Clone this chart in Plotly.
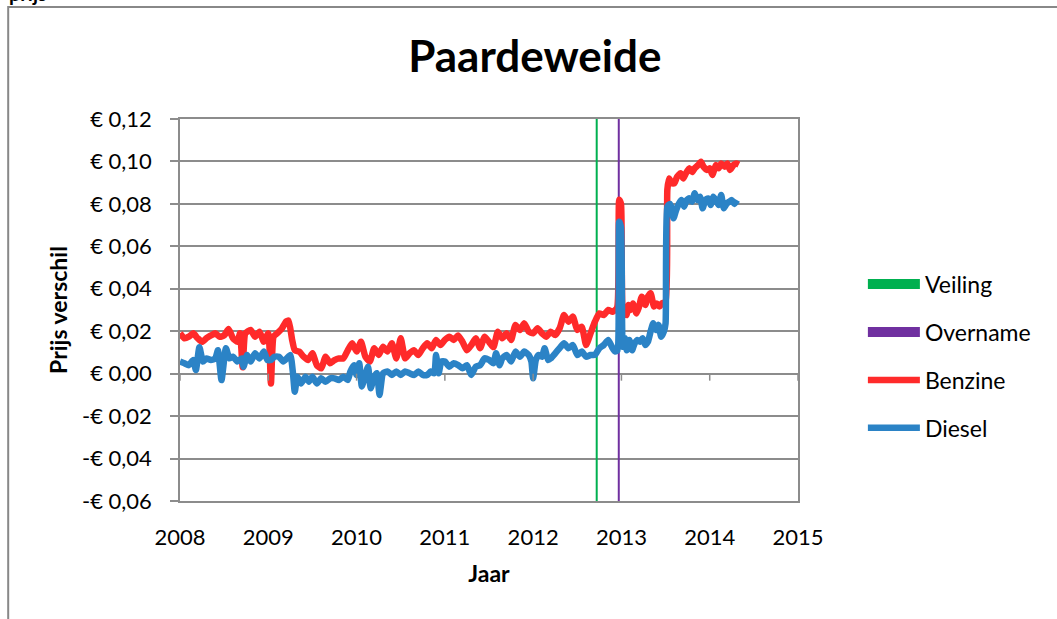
import plotly.graph_objects as go

# ---------------- data ----------------
benzine_jaar = [2008.00, 2008.05, 2008.10, 2008.15, 2008.20, 2008.25, 2008.30, 2008.35, 2008.40, 2008.45,
                2008.50, 2008.55, 2008.60, 2008.65, 2008.68, 2008.71, 2008.74, 2008.80, 2008.85, 2008.90,
                2008.95, 2009.00, 2009.03, 2009.06, 2009.10, 2009.15, 2009.20, 2009.23, 2009.27, 2009.30,
                2009.35, 2009.40, 2009.45, 2009.50, 2009.55, 2009.60, 2009.65, 2009.70, 2009.75, 2009.80,
                2009.85, 2009.90, 2009.95, 2010.00, 2010.05, 2010.10, 2010.15, 2010.20, 2010.25, 2010.30,
                2010.35, 2010.40, 2010.45, 2010.50, 2010.55, 2010.60, 2010.65, 2010.70, 2010.75, 2010.80,
                2010.85, 2010.90, 2010.95, 2011.00, 2011.05, 2011.10, 2011.15, 2011.20, 2011.25, 2011.30,
                2011.35, 2011.40, 2011.45, 2011.50, 2011.55, 2011.60, 2011.65, 2011.70, 2011.75, 2011.80,
                2011.85, 2011.90, 2011.95, 2012.00, 2012.05, 2012.10, 2012.15, 2012.20, 2012.25, 2012.30,
                2012.35, 2012.40, 2012.45, 2012.50, 2012.55, 2012.60, 2012.65, 2012.70, 2012.75, 2012.80,
                2012.85, 2012.90, 2012.95, 2012.975, 2012.995, 2013.015, 2013.04, 2013.06, 2013.08, 2013.10,
                2013.13, 2013.17, 2013.20, 2013.23, 2013.27, 2013.30, 2013.33, 2013.37, 2013.40, 2013.43,
                2013.46, 2013.50, 2013.52, 2013.54, 2013.57, 2013.60, 2013.63, 2013.67, 2013.70, 2013.73,
                2013.77, 2013.80, 2013.83, 2013.87, 2013.90, 2013.93, 2013.97, 2014.00, 2014.03, 2014.07,
                2014.10, 2014.13, 2014.17, 2014.20, 2014.23, 2014.27, 2014.30, 2014.33]
benzine_prijs = [0.0190, 0.0167, 0.0174, 0.0190, 0.0167, 0.0150, 0.0167, 0.0180, 0.0190, 0.0174,
                 0.0180, 0.0210, 0.0167, 0.0150, 0.0190, 0.0030, 0.0190, 0.0206, 0.0174, 0.0198,
                 0.0150, 0.0190, -0.0046, 0.0174, 0.0190, 0.0210, 0.0245, 0.0250, 0.0160, 0.0110,
                 0.0104, 0.0080, 0.0064, 0.0096, 0.0040, 0.0025, 0.0080, 0.0049, 0.0064, 0.0072,
                 0.0072, 0.0110, 0.0143, 0.0104, 0.0150, 0.0080, 0.0057, 0.0120, 0.0088, 0.0127,
                 0.0104, 0.0143, 0.0072, 0.0167, 0.0072, 0.0096, 0.0110, 0.0088, 0.0120, 0.0143,
                 0.0120, 0.0159, 0.0135, 0.0159, 0.0174, 0.0159, 0.0180, 0.0150, 0.0110, 0.0135,
                 0.0167, 0.0120, 0.0174, 0.0150, 0.0125, 0.0198, 0.0167, 0.0190, 0.0159, 0.0230,
                 0.0206, 0.0237, 0.0198, 0.0190, 0.0214, 0.0190, 0.0174, 0.0198, 0.0182, 0.0214,
                 0.0276, 0.0245, 0.0269, 0.0206, 0.0221, 0.0135, 0.0190, 0.0245, 0.0284, 0.0276,
                 0.0300, 0.0292, 0.0310, 0.0820, 0.0800, 0.0300, 0.0284, 0.0276, 0.0324, 0.0300,
                 0.0331, 0.0284, 0.0316, 0.0363, 0.0324, 0.0363, 0.0379, 0.0316, 0.0331, 0.0316,
                 0.0331, 0.0339, 0.0866, 0.0920, 0.0897, 0.0897, 0.0928, 0.0944, 0.0920, 0.0944,
                 0.0968, 0.0950, 0.0968, 0.0983, 0.0999, 0.0975, 0.0960, 0.0968, 0.0936, 0.0983,
                 0.0968, 0.0990, 0.0975, 0.0990, 0.0960, 0.0983, 0.0990, 0.0985]

diesel_jaar = [2008.00, 2008.05, 2008.10, 2008.15, 2008.18, 2008.22, 2008.26, 2008.30, 2008.35, 2008.40,
               2008.43, 2008.47, 2008.52, 2008.56, 2008.60, 2008.65, 2008.70, 2008.72, 2008.76, 2008.80,
               2008.85, 2008.90, 2008.95, 2008.99, 2009.03, 2009.07, 2009.12, 2009.17, 2009.21, 2009.25,
               2009.28, 2009.30, 2009.33, 2009.37, 2009.42, 2009.46, 2009.50, 2009.55, 2009.60, 2009.65,
               2009.70, 2009.75, 2009.80, 2009.85, 2009.90, 2009.93, 2009.97, 2010.00, 2010.03, 2010.06,
               2010.10, 2010.13, 2010.16, 2010.20, 2010.23, 2010.26, 2010.30, 2010.35, 2010.40, 2010.45,
               2010.50, 2010.55, 2010.60, 2010.65, 2010.70, 2010.75, 2010.80, 2010.84, 2010.88, 2010.90,
               2010.93, 2010.96, 2011.00, 2011.05, 2011.10, 2011.15, 2011.20, 2011.25, 2011.30, 2011.35,
               2011.40, 2011.45, 2011.50, 2011.55, 2011.58, 2011.62, 2011.65, 2011.70, 2011.75, 2011.80,
               2011.85, 2011.90, 2011.95, 2011.98, 2012.00, 2012.03, 2012.06, 2012.10, 2012.13, 2012.17,
               2012.20, 2012.25, 2012.30, 2012.35, 2012.40, 2012.45, 2012.50, 2012.55, 2012.60, 2012.65,
               2012.70, 2012.75, 2012.80, 2012.85, 2012.90, 2012.93, 2012.955, 2012.975, 2012.995, 2013.015,
               2013.04, 2013.06, 2013.09, 2013.12, 2013.15, 2013.18, 2013.21, 2013.24, 2013.27, 2013.30,
               2013.33, 2013.36, 2013.39, 2013.42, 2013.45, 2013.48, 2013.50, 2013.52, 2013.55, 2013.57,
               2013.59, 2013.62, 2013.65, 2013.68, 2013.71, 2013.74, 2013.77, 2013.80, 2013.83, 2013.86,
               2013.89, 2013.92, 2013.95, 2013.98, 2014.01, 2014.04, 2014.07, 2014.10, 2014.13, 2014.16,
               2014.19, 2014.22, 2014.25, 2014.28, 2014.31]
diesel_prijs = [0.0057, 0.0049, 0.0040, 0.0064, 0.0017, 0.0125, 0.0057, 0.0072, 0.0064, 0.0072,
                0.0110, -0.0030, 0.0120, 0.0072, 0.0080, 0.0057, 0.0072, 0.0033, 0.0088, 0.0057,
                0.0096, 0.0072, 0.0104, 0.0064, 0.0064, 0.0080, 0.0080, 0.0057, 0.0072, 0.0088,
                0.0000, -0.0085, -0.0014, -0.0046, -0.0014, -0.0038, -0.0014, -0.0046, -0.0022, -0.0038,
                -0.0022, -0.0022, -0.0030, -0.0014, -0.0030, 0.0010, 0.0040, -0.0006, 0.0049, -0.0060,
                -0.0006, 0.0033, -0.0069, -0.0014, 0.0002, -0.0100, 0.0002, 0.0010, -0.0006, 0.0010,
                -0.0006, 0.0010, 0.0002, -0.0006, 0.0010, -0.0006, -0.0006, 0.0010, 0.0002, 0.0088,
                0.0002, 0.0057, 0.0057, 0.0033, 0.0049, 0.0040, 0.0025, 0.0040, -0.0006, 0.0033,
                0.0040, 0.0072, 0.0065, 0.0049, 0.0096, 0.0040, 0.0072, 0.0088, 0.0057, 0.0104,
                0.0080, 0.0104, 0.0088, 0.0057, -0.0022, 0.0064, 0.0088, 0.0080, 0.0120, 0.0064,
                0.0072, 0.0096, 0.0120, 0.0143, 0.0120, 0.0135, 0.0088, 0.0104, 0.0080, 0.0088,
                0.0088, 0.0120, 0.0135, 0.0159, 0.0120, 0.0104, 0.0110, 0.0716, 0.0690, 0.0127,
                0.0167, 0.0110, 0.0159, 0.0110, 0.0143, 0.0159, 0.0150, 0.0167, 0.0135, 0.0150,
                0.0198, 0.0237, 0.0206, 0.0230, 0.0174, 0.0198, 0.0237, 0.0787, 0.0800, 0.0779,
                0.0732, 0.0771, 0.0800, 0.0818, 0.0787, 0.0818, 0.0826, 0.0810, 0.0850, 0.0818,
                0.0834, 0.0779, 0.0818, 0.0826, 0.0795, 0.0834, 0.0818, 0.0795, 0.0842, 0.0779,
                0.0800, 0.0810, 0.0818, 0.0800, 0.0818]

veiling_jaar = 2012.72
overname_jaar = 2012.97

y_range = [-0.06, 0.12]
y_tickvals = [0.12, 0.10, 0.08, 0.06, 0.04, 0.02, 0.00, -0.02, -0.04, -0.06]
y_ticktext = ["€ 0,12", "€ 0,10", "€ 0,08", "€ 0,06", "€ 0,04", "€ 0,02", "€ 0,00",
              "-€ 0,02", "-€ 0,04", "-€ 0,06"]
x_range = [2008, 2015]
x_tickvals = [2008, 2009, 2010, 2011, 2012, 2013, 2014, 2015]
x_ticktext = ["2008", "2009", "2010", "2011", "2012", "2013", "2014", "2015"]

# ---------------- style ----------------
FONT = "Lato"
GRID = "#8c8c8c"
C_VEIL = "#00B050"
C_OVER = "#7030A0"
C_BENZ = "#FF2A2A"
C_DIES = "#2B83C6"

fig = go.Figure()

# vertical event lines (under series)
fig.add_trace(go.Scatter(x=[veiling_jaar, veiling_jaar], y=y_range, mode="lines",
                         line=dict(color=C_VEIL, width=2), showlegend=False, hoverinfo="skip"))
fig.add_trace(go.Scatter(x=[overname_jaar, overname_jaar], y=y_range, mode="lines",
                         line=dict(color=C_OVER, width=2), showlegend=False, hoverinfo="skip"))
# legend-only entries (wide rectangles)
fig.add_trace(go.Scatter(x=[None], y=[None], mode="lines", name="Veiling", legendgroup="a",
                         line=dict(color=C_VEIL, width=14)))
fig.add_trace(go.Scatter(x=[None], y=[None], mode="lines", name="Overname", legendgroup="b",
                         line=dict(color=C_OVER, width=14)))
fig.add_trace(go.Scatter(x=benzine_jaar, y=benzine_prijs, mode="lines", name="Benzine",
                         legendgroup="c", line=dict(color=C_BENZ, width=6.5, shape="spline", smoothing=0.5)))
fig.add_trace(go.Scatter(x=diesel_jaar, y=diesel_prijs, mode="lines", name="Diesel",
                         legendgroup="d", line=dict(color=C_DIES, width=6.5, shape="spline", smoothing=0.5)))

# small tick marks on the zero line
for xv in x_tickvals:
    fig.add_shape(type="line", xref="x", yref="y", x0=xv, x1=xv, y0=0, y1=-7,
                  ysizemode="pixel", yanchor=0, line=dict(color=GRID, width=1.5))

# outer chart border
fig.add_shape(type="rect", xref="paper", yref="paper", x0=-0.278, x1=1.6, y0=-0.6, y1=1.293,
              line=dict(color="#888888", width=2), layer="below")

fig.add_annotation(text="<b>prijs</b>", xref="paper", yref="paper", x=-0.28, y=1.293,
                   xanchor="left", yanchor="bottom", showarrow=False,
                   font=dict(family=FONT, size=20, color="black"))

fig.update_layout(
    width=1057, height=619,
    margin=dict(l=180, r=259, t=119, b=118),
    paper_bgcolor="white", plot_bgcolor="white",
    font=dict(family=FONT, size=22, color="black"),
    title=dict(text="<b>Paardeweide</b>", x=0.506, xref="container", xanchor="center",
               y=0.908, yref="container", yanchor="middle",
               font=dict(family=FONT, size=44, color="black")),
    showlegend=True,
    legend=dict(x=1.105, xanchor="left", y=0.624, yanchor="top", tracegroupgap=15,
                itemwidth=52, font=dict(family=FONT, size=23, color="black"),
                bgcolor="rgba(0,0,0,0)", traceorder="grouped"),
    hovermode=False,
)

fig.update_xaxes(range=x_range, tickvals=x_tickvals, ticktext=x_ticktext,
                 showgrid=False, zeroline=False, showline=True, mirror=True,
                 linecolor=GRID, linewidth=1.5, ticks="", ticklabelstandoff=16,
                 tickfont=dict(family=FONT, size=22),
                 title=dict(text="<b>Jaar</b>", font=dict(family=FONT, size=23), standoff=17))
fig.update_yaxes(range=y_range, tickvals=y_tickvals, ticktext=y_ticktext,
                 showgrid=True, gridcolor=GRID, gridwidth=1.5, zeroline=False,
                 showline=True, mirror=True, linecolor=GRID, linewidth=1.5,
                 ticks="outside", ticklen=8, tickcolor=GRID, tickwidth=1.5,
                 ticklabelstandoff=14, tickfont=dict(family=FONT, size=22),
                 title=dict(text="<b>Prijs verschil</b>", font=dict(family=FONT, size=23), standoff=8))

fig.write_html("out.html", config={"displayModeBar": False},
               post_script="document.body.style.margin='0';")
